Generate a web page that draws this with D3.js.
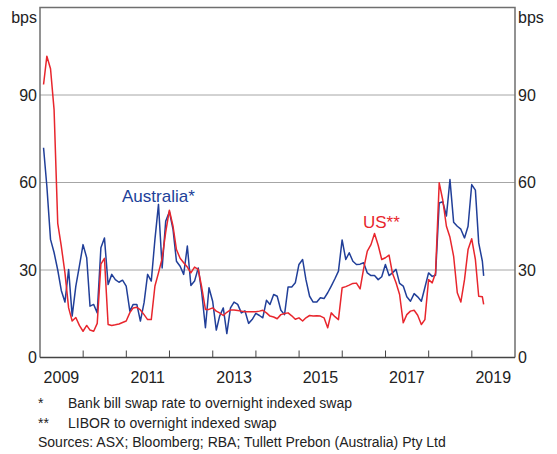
<!DOCTYPE html>
<html><head><meta charset="utf-8">
<script src="https://cdn.jsdelivr.net/npm/d3@7"></script>
<style>
html,body{margin:0;padding:0;background:#fff;}
text{font-family:"Liberation Sans",Arial,sans-serif;}
</style></head>
<body>
<svg id="c" width="557" height="454"></svg>
<script>
// Monthly observations, Jan 2009 – Mar 2019 (end of month), plus latest obs. in Apr 2019
const firstMonth = "2009-01";
const lastObs = "2019-04-11";
const australia = [
71.9, 58.7, 40.5, 36, 30, 23, 19, 30.2, 14.2, 24.5,
31.3, 38.7, 34.2, 17.6, 18.2, 15.3, 37.6, 41, 25, 28.5,
26.7, 25.8, 26.5, 24.5, 15.9, 18.2, 18.2, 12.5, 18.8, 28.5,
26.2, 40.5, 52.5, 30.7, 46.7, 50, 43.9, 33, 31.3, 28.5,
38.2, 24.7, 26.2, 30.7, 22.2, 10.2, 23.9, 19.3, 9.4, 14.2,
17, 8.2, 17, 19, 18.2, 15.3, 16, 11.7, 13, 15.1,
14.4, 13.6, 19.6, 18.2, 21.6, 21, 16.2, 14.7, 24.2, 24.2,
25.6, 31.9, 33.6, 26.7, 21, 19, 19, 20.5, 20.2, 22.2,
24.5, 27, 29.6, 40.3, 33.6, 35.9, 33, 31.9, 32, 32.5,
29, 28.1, 28.1, 26.7, 27.7, 31.9, 28.1, 29, 30.2, 25.4,
24.5, 20.8, 19.3, 21.9, 20.8, 19.3, 24, 29, 27.8, 28.2,
53, 53.4, 48.5, 61, 46.4, 45, 44, 41, 45, 59.3,
57.4, 39.3, 33, 28
];
const us = [
93.6, 103.3, 99, 85, 46, 38.2, 29, 17, 12.5, 13.7,
11, 9, 11, 9.4, 9, 11.7, 32, 34, 11.3, 11,
11.2, 11.5, 12, 12.5, 15.4, 17, 17.2, 16.3, 14.7, 13,
13, 24.5, 29, 34, 43, 50.5, 45, 37, 34, 32.5,
31, 29, 31, 30.2, 24, 16.5, 16.5, 17, 15.9, 15.3,
14.4, 15.5, 16.3, 16.3, 16.1, 15.9, 15.7, 15.7, 15.7, 15.7,
15.9, 16.2, 15.3, 14.2, 13.9, 13.3, 14.7, 15.1, 15.3, 14.3,
13.1, 13.6, 12.5, 13.6, 14.4, 14.2, 14.3, 14.2, 13.6, 10.2,
15.3, 14, 13, 23.9, 24.3, 24.8, 25.4, 25.5, 23.5, 30.5,
36.5, 38.7, 42.5, 38.5, 33.6, 34.2, 35.1, 29, 25.6, 21.6,
11.9, 14.7, 15.9, 16.2, 14.5, 11.3, 13, 26.7, 25.6, 29,
59.9, 54, 45, 41.2, 34.7, 22.2, 19, 26.7, 37, 40.7,
33.6, 21, 20.8, 18.2
];
const yTicks = [0, 30, 60, 90];
const yearLabels = [2009, 2011, 2013, 2015, 2017, 2019];
const yearTicks = [2010, 2011, 2012, 2013, 2014, 2015, 2016, 2017, 2018, 2019];
const footnotes = [
  ["*", "Bank bill swap rate to overnight indexed swap"],
  ["**", "LIBOR to overnight indexed swap"]
];
const sources = "Sources: ASX; Bloomberg; RBA; Tullett Prebon (Australia) Pty Ltd";

const BLUE = "#213f99", RED = "#e8262d";

// dates: end of each month, last one is latest observation
const parseM = d3.timeParse("%Y-%m");
const start = parseM(firstMonth);
const dates = d3.range(australia.length - 1).map(i => d3.timeDay.offset(d3.timeMonth.offset(start, i + 1), -1));
dates.push(d3.timeParse("%Y-%m-%d")(lastObs));

const L = 40, R = 515, T = 7.5, B = 357.5;
const x = d3.scaleTime().domain([new Date(2009,0,1), new Date(2020,0,1)]).range([L, R]);
const y = d3.scaleLinear().domain([0, 120]).range([B, T]);

const svg = d3.select("#c");

// gridlines
svg.append("g").selectAll("line").data(yTicks.filter(d => d > 0)).join("line")
  .attr("x1", L).attr("x2", R).attr("y1", d => y(d)).attr("y2", d => y(d))
  .attr("stroke", "#a6a6a6").attr("stroke-width", 1);

// frame
svg.append("path").attr("d", `M${L},${B}V${T}H${R}V${B}`)
  .attr("fill", "none").attr("stroke", "#6f6f6f").attr("stroke-width", 1.5);

// y labels
const fs = 16;
svg.append("g").selectAll("text").data(yTicks).join("text")
  .attr("x", L - 3).attr("y", d => y(d)).attr("dy", "0.35em")
  .attr("text-anchor", "end").attr("font-size", fs).attr("fill", "#222").text(d => d);
svg.append("g").selectAll("text").data(yTicks).join("text")
  .attr("x", R + 3).attr("y", d => y(d)).attr("dy", "0.35em")
  .attr("text-anchor", "start").attr("font-size", fs).attr("fill", "#222").text(d => d);
svg.append("text").attr("x", L - 3).attr("y", 23).attr("text-anchor", "end")
  .attr("font-size", fs).attr("fill", "#222").text("bps");
svg.append("text").attr("x", R + 3).attr("y", 23).attr("text-anchor", "start")
  .attr("font-size", fs).attr("fill", "#222").text("bps");

// lines
const line = d3.line().x((d, i) => x(dates[i])).y(d => y(d));
svg.append("path").datum(australia).attr("d", line)
  .attr("fill", "none").attr("stroke", BLUE).attr("stroke-width", 1.5).attr("stroke-linejoin", "round");
svg.append("path").datum(us).attr("d", line)
  .attr("fill", "none").attr("stroke", RED).attr("stroke-width", 1.5).attr("stroke-linejoin", "round");

// x axis
svg.append("line").attr("x1", L).attr("x2", R).attr("y1", B).attr("y2", B)
  .attr("stroke", "#444").attr("stroke-width", 1.5);
svg.append("g").selectAll("line").data(yearTicks).join("line")
  .attr("x1", d => x(new Date(d,0,1))).attr("x2", d => x(new Date(d,0,1)))
  .attr("y1", B).attr("y2", B - 7).attr("stroke", "#444").attr("stroke-width", 1);
svg.append("g").selectAll("text").data(yearLabels).join("text")
  .attr("x", d => x(new Date(d,6,1))).attr("y", 383)
  .attr("text-anchor", "middle").attr("font-size", fs).attr("fill", "#222").text(d => d);

// series labels
svg.append("text").attr("x", 122).attr("y", 202).attr("font-size", 17)
  .attr("fill", BLUE).text("Australia*");
svg.append("text").attr("x", 363).attr("y", 228).attr("font-size", 17)
  .attr("fill", RED).text("US**");

// footnotes
const fn = svg.append("g").attr("font-size", 14).attr("fill", "#222");
footnotes.forEach((f, i) => {
  fn.append("text").attr("x", 38).attr("y", 408 + i * 19.5).text(f[0]);
  fn.append("text").attr("x", 68).attr("y", 408 + i * 19.5).text(f[1]);
});
fn.append("text").attr("x", 38).attr("y", 447).text(sources);
</script>
</body></html>
